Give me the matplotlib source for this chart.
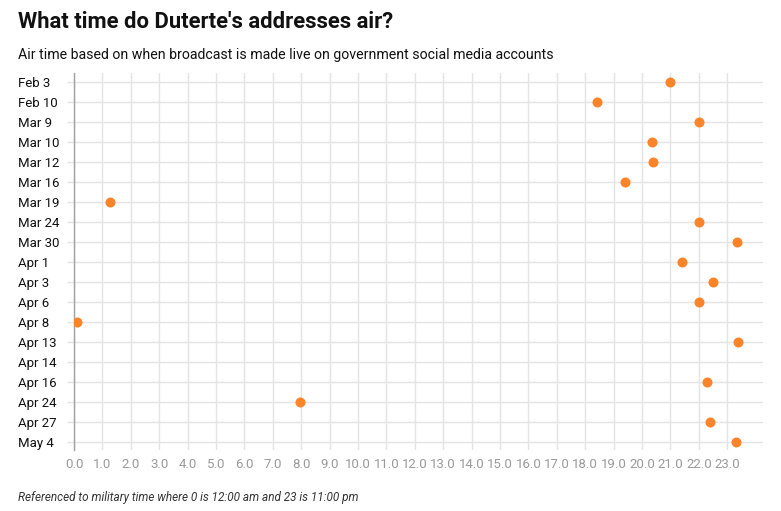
import numpy as np
import matplotlib
matplotlib.use("Agg")
import matplotlib.pyplot as plt

plt.rcParams['font.family'] = ['Roboto', 'DejaVu Sans']

dates = ["Feb 3", "Feb 10", "Mar 9", "Mar 10", "Mar 12", "Mar 16", "Mar 19",
         "Mar 24", "Mar 30", "Apr 1", "Apr 3", "Apr 6", "Apr 8", "Apr 13",
         "Apr 14", "Apr 16", "Apr 24", "Apr 27", "May 4"]
air_time = [21.0, 18.4, 22.0, 20.35, 20.4, 19.4, 1.27,
            22.0, 23.35, 21.4, 22.5, 22.0, 0.12, 23.38,
            np.nan, 22.28, 7.96, 22.4, 23.3]
x_ticks = list(range(0, 24))

title = "What time do Duterte's addresses air?"
subtitle = "Air time based on when broadcast is made live on government social media accounts"
footnote = "Referenced to military time where 0 is 12:00 am and 23 is 11:00 pm"

W, H = 781, 511
fig = plt.figure(figsize=(W / 100, H / 100), dpi=100)
ax = fig.add_axes([74 / W, (H - 450) / H, (763 - 74) / W, (450 - 73.3) / H])

y = np.arange(len(dates))
ax.scatter(air_time, y, s=52, color="#fd8429", zorder=3, linewidths=0)

ax.set_xlim(0, 24.26)
ax.set_ylim(len(dates) - 1 + 0.42, -0.42)

ax.set_xticks(x_ticks)
ax.set_xticklabels([f"{v:.1f}" for v in x_ticks], color="#9a9a9a", fontsize=9.5)
ax.set_yticks(y)
ax.set_yticklabels(dates, fontsize=9.5, color="#111111", ha="left")

ax.grid(True, color="#e4e4e4", linewidth=1)
ax.set_axisbelow(True)
ax.tick_params(axis="x", length=0, pad=6)
ax.tick_params(axis="y", length=5, width=1, color="#e4e4e4", pad=35.3)

for s in ["top", "right", "bottom"]:
    ax.spines[s].set_visible(False)
ax.spines["left"].set_color("#a0a0a0")
ax.spines["left"].set_linewidth(1)

fig.text(18 / W, 1 - 22.5 / H, title, fontsize=15.8, fontweight="bold", va="center", ha="left", color="#111111")
fig.text(18 / W, 1 - 55 / H, subtitle, fontsize=10.2, va="center", ha="left", color="#111111")
fig.text(18 / W, 1 - 497 / H, footnote, fontsize=8.45, style="italic", va="center", ha="left", color="#333333")

fig.savefig("out.png", dpi=100)
